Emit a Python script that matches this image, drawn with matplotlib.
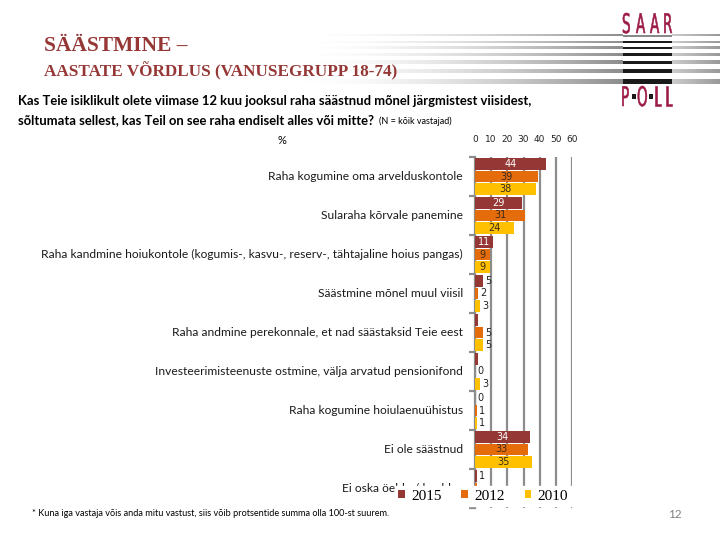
import numpy as np
import matplotlib
matplotlib.use("Agg")
import matplotlib.pyplot as plt
from matplotlib.patches import PathPatch, Rectangle
from matplotlib.textpath import TextPath
from matplotlib.font_manager import FontProperties
from matplotlib.transforms import Affine2D, offset_copy

# data
categories = [
    "Raha kogumine oma arvelduskontole",
    "Sularaha kõrvale panemine",
    "Raha kandmine hoiukontole (kogumis-, kasvu-, reserv-, tähtajaline hoius pangas)",
    "Säästmine mõnel muul viisil",
    "Raha andmine perekonnale, et nad säästaksid Teie eest",
    "Investeerimisteenuste ostmine, välja arvatud pensionifond",
    "Raha kogumine hoiulaenuühistus",
    "Ei ole säästnud",
    "Ei oska öelda / keeldus",
]
years = ["2015", "2012", "2010"]
v2015 = [44, 29, 11, 5, 2, 2, 0, 34, 1]
v2012 = [39, 31, 9, 2, 5, 0, 1, 33, 1]
v2010 = [38, 24, 9, 3, 5, 3, 1, 35, 1]
# labels as printed on the slide ('' = not shown)
lab2015 = ["44", "29", "11", "5", "", "", "0", "34", "1"]
lab2012 = ["39", "31", "9", "2", "5", "0", "1", "33", ""]
lab2010 = ["38", "24", "9", "3", "5", "3", "1", "35", ""]
xticks = [0, 10, 20, 30, 40, 50, 60]

colors = ["#953735", "#E46C0A", "#FFC000"]
txtcol = ["white", "#3a2a1a", "#3a2a1a"]
maroon = "#953735"

fig = plt.figure(figsize=(7.2, 5.4), dpi=100)

# background layer in pixel coordinates
bg = fig.add_axes([0, 0, 1, 1])
bg.set_xlim(0, 720)
bg.set_ylim(540, 0)
bg.axis("off")

# logo stripes
stripes = [(35, 1.5), (41, 1.8), (46.5, 2.2), (53, 2.6), (60.5, 3.2), (69, 4), (79, 5)]
t = np.linspace(0, 1, 256)
for k, (y, h) in enumerate(stripes):
    g = 1 - 0.45 * t ** 1.8
    img = np.dstack([g, g, g]).repeat(2, axis=0)
    bg.imshow(img, extent=(300, 623, y + h, y), aspect="auto", interpolation="bilinear", zorder=1)
    g2 = 0.8 - 0.2 * t
    img2 = np.dstack([g2, g2, g2]).repeat(2, axis=0)
    bg.imshow(img2, extent=(672, 720, y + h, y), aspect="auto", interpolation="bilinear", zorder=1)
    mid = "#8a8a8a" if k == 0 else "#1a1a1a"
    bg.add_patch(Rectangle((623, y), 49, h, color=mid, lw=0, zorder=2))
bg.set_xlim(0, 720)
bg.set_ylim(540, 0)

logo_col = "#9B1B45"
fp = FontProperties(family="DejaVu Sans")
def logo_letter(ch, x, ybase):
    p = TextPath((0, 0), ch, size=15, prop=fp)
    tr = Affine2D().scale(0.9, -1.8).translate(x, ybase)
    bg.add_patch(PathPatch(tr.transform_path(p), facecolor=logo_col,
                           edgecolor=logo_col, lw=0.4, zorder=3))

for ch, x in zip("SAAR", [622, 636, 650, 663]):
    logo_letter(ch, x, 33)
for ch, x in zip("POLL", [621, 637, 654, 665]):
    logo_letter(ch, x, 106)
for x in [631.5, 649]:
    bg.add_patch(Rectangle((x, 94), 4, 4.5, color="#1a1a1a", lw=0, zorder=3))

# titles
bg.text(44, 46, "SÄÄSTMINE –", family="Liberation Serif", weight="bold",
        fontsize=15.5, color=maroon, va="center")
bg.text(44, 71, "AASTATE VÕRDLUS (VANUSEGRUPP 18-74)", family="Liberation Serif",
        weight="bold", fontsize=12.3, color=maroon, va="center")
bg.text(18, 101, "Kas Teie isiklikult olete viimase 12 kuu jooksul raha säästnud mõnel järgmistest viisidest,",
        family="Lato", weight="bold", fontsize=9.4, va="center")
q2 = bg.text(18, 120, "sõltumata sellest, kas Teil on see raha endiselt alles või mitte?",
             family="Lato", weight="bold", fontsize=9.4, va="center")
fig.canvas.draw()
q2_end = bg.transData.inverted().transform(q2.get_window_extent().p1)[0]
bg.text(q2_end + 5, 121, "(N = kõik vastajad)", family="Lato", fontsize=6.5, va="center")
bg.text(278, 140, "%", family="Lato", fontsize=8, va="center")
bg.text(32, 513, "* Kuna iga vastaja võis anda mitu vastust, siis võib protsentide summa olla 100-st suurem.",
        family="Lato", fontsize=6.6, va="center")
bg.text(668, 514, "12", family="Lato", fontsize=8.5, color="#808080", va="center")

# chart
ax = fig.add_axes([475 / 720, 1 - 508 / 540, 97 / 720, (508 - 157) / 540])
ypos = np.arange(len(categories))
offs = [-0.315, 0, 0.315]
h = 0.3
series = [v2015, v2012, v2010]
labels = [lab2015, lab2012, lab2010]
bars = []
for s, vals in enumerate(series):
    b = ax.barh(ypos + offs[s], vals, height=h, color=colors[s], label=years[s], zorder=3)
    bars.append(b)
    for i, v in enumerate(vals):
        lab = labels[s][i]
        if not lab:
            continue
        if v >= 9:
            ax.text(v / 2, ypos[i] + offs[s], lab, ha="center", va="center",
                    fontsize=7, color=txtcol[s], zorder=4)
        else:
            ax.text(v + 1.5, ypos[i] + offs[s], lab, ha="left", va="center",
                    fontsize=7, color="#222222", zorder=4)

ax.set_xlim(0, 60)
ax.set_ylim(len(categories) - 0.5, -0.5)
ax.xaxis.tick_top()
ax.set_xticks(xticks)
ax.tick_params(axis="x", length=0, labelsize=6.5, pad=9, colors="#222222")
ax.set_yticks(np.arange(-0.5, len(categories), 1))
ax.set_yticklabels([])
ax.tick_params(axis="y", length=4, width=1.6, color="#8c8c8c")
ax.grid(axis="x", color="#8c8c8c", lw=1.6, zorder=0)
ax.set_axisbelow(True)
for sp in ["top", "right", "bottom"]:
    ax.spines[sp].set_visible(False)
ax.spines["left"].set_color("#8c8c8c")
ax.spines["left"].set_linewidth(1.6)

lab_tr = offset_copy(ax.get_yaxis_transform(), fig=fig, x=-12, y=0, units="dots")
for i, c in enumerate(categories):
    ax.text(0, ypos[i], c, transform=lab_tr, ha="right", va="center",
            family="Lato", fontsize=8.65, color="#1a1a1a", clip_on=False)

leg = ax.legend(handles=bars, loc="center", bbox_to_anchor=(483 / 720, 1 - 496 / 540),
                bbox_transform=fig.transFigure, ncol=3, frameon=True, fancybox=False,
                edgecolor="white", facecolor="white", framealpha=1,
                prop={"family": "Liberation Serif", "size": 11},
                handlelength=0.45, handleheight=0.45, handletextpad=0.4,
                columnspacing=1.3, borderpad=0.2)
leg.set_zorder(10)

fig.savefig("out.png", dpi=100)
